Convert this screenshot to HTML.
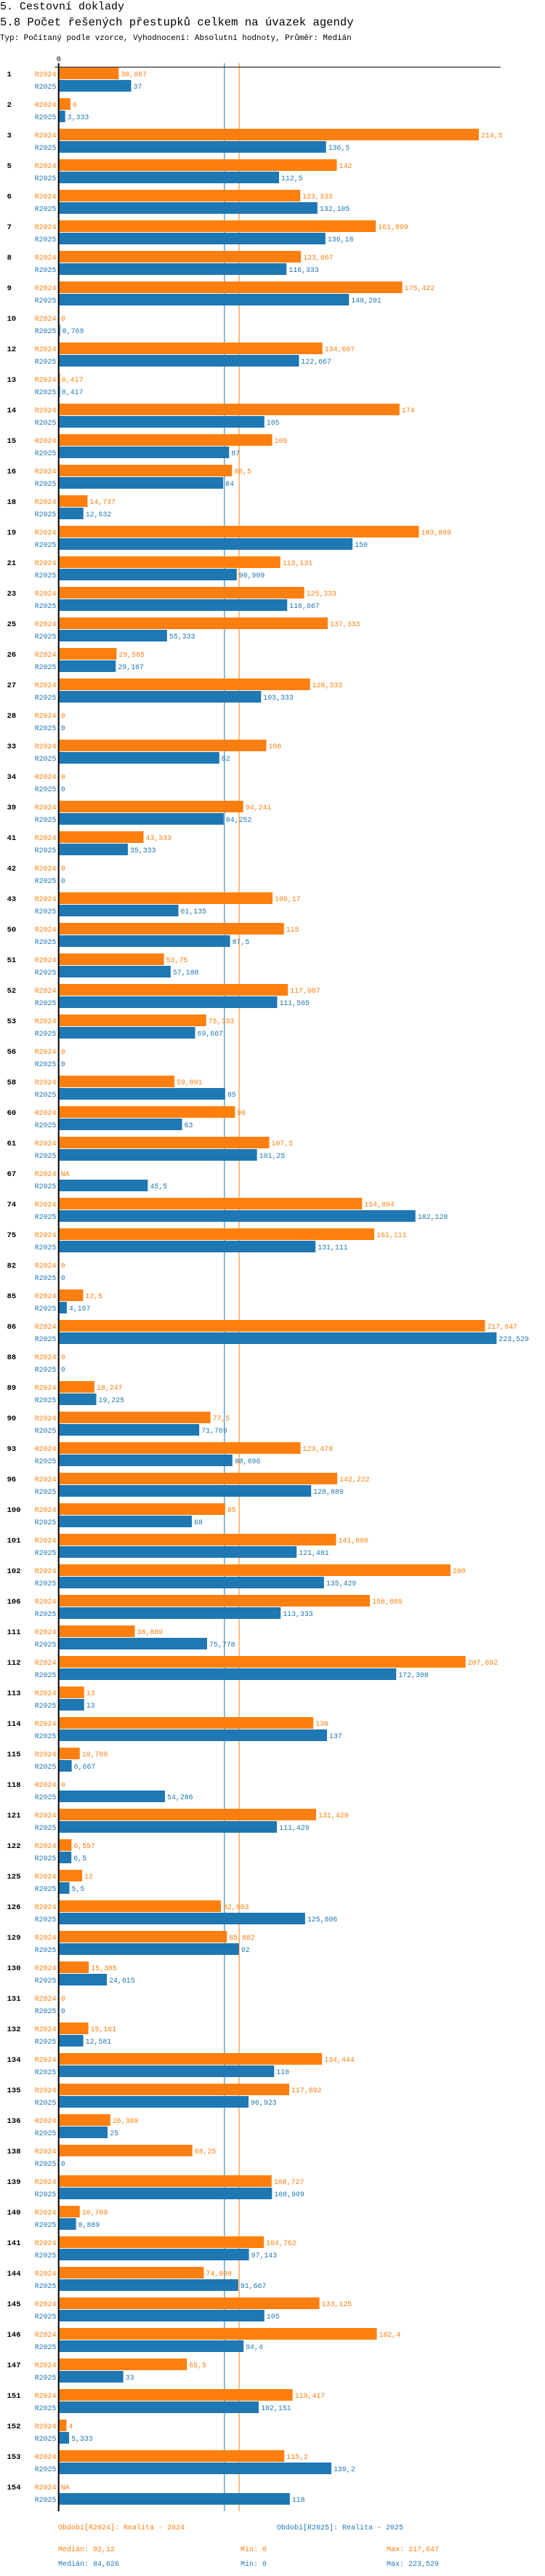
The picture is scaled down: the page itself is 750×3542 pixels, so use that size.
<!DOCTYPE html>
<html><head><meta charset="utf-8"><style>
html,body{margin:0;padding:0;background:#fff;width:750px;height:3542px;overflow:hidden}
svg text{font-family:"Liberation Mono",monospace}
</style></head><body>
<svg id="chart" width="750" height="3542" xmlns="http://www.w3.org/2000/svg">
<text x="0" y="13" font-size="15" fill="#000">5. Cestovní doklady</text>
<text x="0" y="35" font-size="15.6" fill="#000">5.8 Počet řešených přestupků celkem na úvazek agendy</text>
<text x="0" y="55" font-size="10.9" fill="#000">Typ: Počítaný podle vzorce, Vyhodnocení: Absolutní hodnoty, Průměr: Medián</text>
<g id="marks"></g>
</svg>
<script>
const categories = ["1","2","3","5","6","7","8","9","10","12","13","14","15","16","18","19","21","23","25","26","27","28","33","34","39","41","42","43","50","51","52","53","56","58","60","61","67","74","75","82","85","86","88","89","90","93","96","100","101","102","106","111","112","113","114","115","118","121","122","125","126","129","130","131","132","134","135","136","138","139","140","141","144","145","146","147","151","152","153","154"];
const values2024 = [30.667,6,214.5,142,123.333,161.899,123.667,175.422,0,134.667,0.417,174,109,88.5,14.737,183.889,113.131,125.333,137.333,29.565,128.333,0,106,0,94.241,43.333,0,109.17,115,53.75,117.007,75.333,0,59.091,90,107.5,null,154.894,161.111,0,12.5,217.647,0,18.247,77.5,123.478,142.222,85,141.606,200,158.889,38.889,207.692,13,130,10.769,0,131.429,6.557,12,82.803,85.882,15.385,0,15.161,134.444,117.692,26.389,68.25,108.727,10.769,104.762,74.098,133.125,162.4,65.5,119.417,4,115.2,null];
const values2025 = [37,3.333,136.5,112.5,132.105,136.18,116.333,148.201,0.769,122.667,0.417,105,87,84,12.632,150,90.909,116.667,55.333,29.167,103.333,0,82,0,84.252,35.333,0,61.135,87.5,57.188,111.565,69.667,0,85,63,101.25,45.5,182.128,131.111,0,4.167,223.529,0,19.225,71.769,88.696,128.889,68,121.481,135.429,113.333,75.778,172.308,13,137,6.667,54.286,111.429,6.5,5.5,125.806,92,24.615,0,12.581,110,96.923,25,0,108.909,8.889,97.143,91.667,105,94.4,33,102.151,5.333,139.2,118];
const medians = [92.12, 84.626];
const mins = [0, 0];
const maxs = [217.647, 223.529];
const seriesNames = ["R2024","R2025"];

const NS = "http://www.w3.org/2000/svg";
const g = document.getElementById('marks');
const colors = ["#ff7f0e","#1f77b4"];
const x0 = 80.7, k = (659 - 80.7)/214.5;
const xs = v => x0 + v*k;
const yGroup = i => 93 + i*42;
const fmt = v => v===null ? "NA" : String(Math.round(v*1000)/1000).replace('.', ',');
function el(tag, attrs, txt){const e=document.createElementNS(NS,tag);for(const a in attrs)e.setAttribute(a,attrs[a]);if(txt!==undefined)e.textContent=txt;g.appendChild(e);return e;}

const bottom = yGroup(categories.length-1) + 42;
medians.forEach((m,si)=>{
  const l = el('line',{x1:xs(m),x2:xs(m),y1:87,y2:bottom,stroke:colors[si],'stroke-width':1});
  
  
});

categories.forEach((c,i)=>{
  const y = yGroup(i);
  const t = el('text',{x:9.6,y:y+12,'font-size':10.5,'font-weight':'bold',fill:'#000'},c);
  
  
  [values2024[i], values2025[i]].forEach((v,si)=>{
    const by = y + si*17;
    const sl = el('text',{x:77.4,y:by+12,'font-size':9.9,'text-anchor':'end',fill:colors[si]},seriesNames[si]);
    
    
    const w = v===null ? 0 : v*k;
    if (w>0){
      const r = el('rect',{x:x0+1,y:by,width:Math.max(w-1,1),height:16,fill:colors[si]});
      
      
    }
    const vl = el('text',{x:x0+Math.max(w,0)+3,y:by+12,'font-size':9.9,fill:colors[si]},fmt(v));
    
    
  });
});

const ax = el('line',{x1:75.5,x2:689,y1:92.3,y2:92.3,stroke:'#000','stroke-width':1});


const ay = el('line',{x1:80.7,x2:80.7,y1:87,y2:bottom,stroke:'#000','stroke-width':2});


const zt = el('text',{x:80.7,y:84,'font-size':9.9,'text-anchor':'middle',fill:'#000'},'0');



const ly = bottom + 25;
const leg1 = el('text',{x:80,y:ly,'font-size':10,fill:colors[0]},'Období[R2024]: Realita - 2024');


const leg2 = el('text',{x:381,y:ly,'font-size':10,fill:colors[1]},'Období[R2025]: Realita - 2025');


[0,1].forEach(si=>{
  const yy = ly + 30 + si*20;
  const a = el('text',{x:80,y:yy,'font-size':10,fill:colors[si]},'Medián: '+fmt(medians[si]));
  
  
  const b = el('text',{x:331,y:yy,'font-size':10,fill:colors[si]},'Min: '+fmt(mins[si]));
  
  
  const c = el('text',{x:532,y:yy,'font-size':10,fill:colors[si]},'Max: '+fmt(maxs[si]));
  
  
});
</script>
</body></html>
